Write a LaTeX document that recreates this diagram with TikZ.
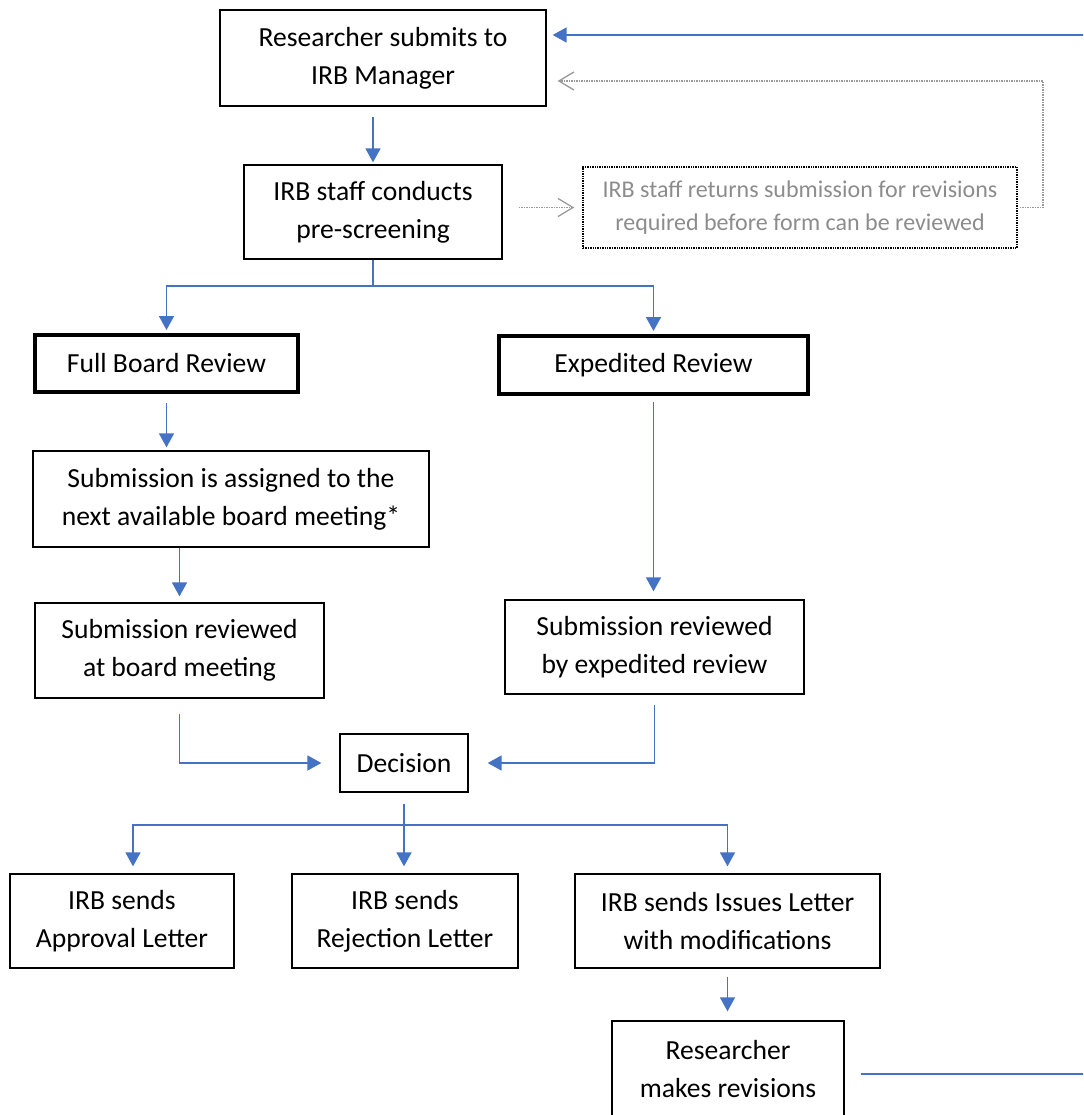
\documentclass[tikz,border=0pt]{standalone}
\usepackage{fontspec}
\setmainfont{Carlito}
\usetikzlibrary{arrows.meta}
\definecolor{linkblue}{HTML}{4472C4}
\definecolor{greytext}{HTML}{8C8C8C}
\definecolor{greyline}{HTML}{9A9A9A}

\begin{document}
\begin{tikzpicture}[x = 1pt, y = -1pt,
                    box/.style = {draw, line width = 1.3pt, inner sep = 0pt, align = center,
                                  font = \fontsize{27.6}{38}\selectfont},
                    boldbox/.style = {box, line width = 4pt},
                    dotbox/.style = {draw = black, line width = 1.4pt, dash pattern = on 1.4pt off 1pt,
                                     inner sep = 0pt, align = center, text = greytext,
                                     font = \fontsize{24}{33}\selectfont},
                    link/.style = {draw = linkblue, line width = 1.6pt},
                    arr/.style = {link, -{Triangle[length = 14pt, width = 15pt]}},
                    greyarr/.style = {draw = greyline, line width = 1.1pt, dash pattern = on 1.5pt off 1pt,
                                      -{Straight Barb[length = 15pt, width = 18pt, line width = 1.3pt]}}]

\clip (0,0) rectangle (1083,1115);

% submission and pre-screening
\node [box, minimum width = 326pt, minimum height = 96pt] (res) at (383,58) {Researcher submits to\\IRB Manager};
\node [box, minimum width = 258pt, minimum height = 94pt] (pre) at (373,212) {IRB staff conducts\\pre-screening};
\node [dotbox, minimum width = 434pt, minimum height = 81pt] (ret) at (800,207.5) {IRB staff returns submission for revisions\\required before form can be reviewed};

% review paths
\node [boldbox, minimum width = 263pt, minimum height = 57pt] (full) at (166.5,363.5) {Full Board Review};
\node [boldbox, minimum width = 309pt, minimum height = 58pt] (exped) at (653.5,365) {Expedited Review};
\node [box, minimum width = 396pt, minimum height = 96pt] (asg) at (231,499) {Submission is assigned to the\\next available board meeting*};
\node [box, minimum width = 289pt, minimum height = 95pt] (rbm) at (179.5,650.5) {Submission reviewed\\at board meeting};
\node [box, minimum width = 299pt, minimum height = 94pt] (rbe) at (654.5,647) {Submission reviewed\\by expedited review};

% decision and letters
\node [box, minimum width = 128pt, minimum height = 58pt] (dec) at (404,763) {Decision};
\node [box, minimum width = 224pt, minimum height = 94pt] (appr) at (122,921) {IRB sends\\Approval Letter};
\node [box, minimum width = 226pt, minimum height = 94pt] (rej) at (405,921) {IRB sends\\Rejection Letter};
\node [box, minimum width = 305pt, minimum height = 94pt] (iss) at (727.5,921) {IRB sends Issues Letter\\with modifications};
\node [box, minimum width = 232pt, minimum height = 96pt] (rev) at (728,1069) {Researcher\\makes revisions};

\coordinate (split1) at (373,286);
\coordinate (split2) at (404,825);
\coordinate (greyturn) at (1043,81);
\coordinate (loopturn) at (1110,35);

\draw [arr, shorten <= 10pt, shorten >= 2pt] (res.south -| pre.north) -- (pre.north);
\draw [greyarr, shorten <= 16pt, shorten >= 8pt] (pre.east |- ret.west) -- (ret.west);
\draw [greyarr, shorten <= 2pt, shorten >= 11pt] (ret.east) -| (greyturn) -- (greyturn -| res.east);

\draw [link] (pre.south) -- (split1);
\draw [arr, shorten >= 3pt] (split1) -| (full.north);
\draw [arr, shorten >= 3pt] (split1) -| (exped.north);

\draw [arr, shorten <= 9pt, shorten >= 3pt] (full.south) -- (full.south |- asg.north);
\draw [arr, shorten >= 6pt] (asg.south -| rbm.north) -- (rbm.north);
\draw [arr, shorten <= 6pt, shorten >= 8pt] (exped.south) -- (exped.south |- rbe.north);

\draw [arr, shorten <= 15pt, shorten >= 18pt] (rbm.south) |- (dec.west);
\draw [arr, shorten <= 10pt, shorten >= 19pt] (rbe.south) |- (dec.east);

\draw [link, shorten <= 11pt] (dec.south) -- (split2);
\draw [arr, shorten >= 7pt] (split2) -| ([xshift = 11pt]appr.north);
\draw [arr, shorten >= 7pt] (split2) -- (split2 |- rej.north);
\draw [arr, shorten >= 7pt] (split2) -| (iss.north);

\draw [arr, shorten <= 8pt, shorten >= 9pt] (iss.south) -- (iss.south |- rev.north);
\draw [arr, shorten >= 6pt] ([xshift = 16pt, yshift = -5pt]rev.east) -| (loopturn) -- (loopturn -| res.east);

\end{tikzpicture}
\end{document}
